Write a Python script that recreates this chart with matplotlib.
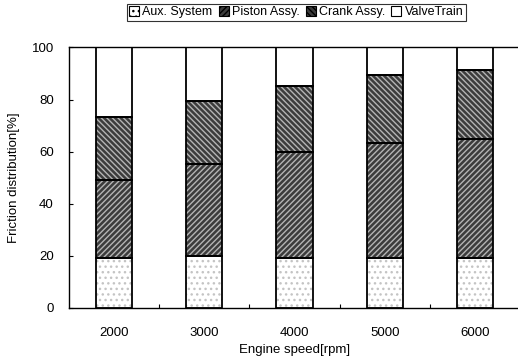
# =========================================================
#        FRICTION DISTRIBUTION vs ENGINE SPEED
# =========================================================

import numpy as np
import matplotlib
matplotlib.use("Agg")
import matplotlib.pyplot as plt
from matplotlib.patches import Patch

# =========================================================
# DỮ LIỆU
# =========================================================

engine_speed = ["2000", "3000", "4000", "5000", "6000"]

aux_system = [19.0, 20.0, 19.0, 19.0, 19.0]
piston_assy = [30.0, 35.2, 41.0, 44.5, 46.0]
crank_assy = [24.2, 24.4, 25.2, 25.9, 26.4]
valve_train = [26.8, 20.4, 14.8, 10.6, 8.6]

series_names = ["Aux. System", "Piston Assy.", "Crank Assy.", "ValveTrain"]

y_ticks = [0, 20, 40, 60, 80, 100]

# =========================================================
# STYLE
# =========================================================

plt.rcParams["font.family"] = ["Liberation Sans", "DejaVu Sans"]
plt.rcParams["hatch.linewidth"] = 1.0

# face, hatch colour, hatch pattern
styles = [
    ("white", "#c4c4c4", "..."),
    ("#3c3c3c", "#b4b4b4", "//////"),
    ("#3c3c3c", "#b4b4b4", "\\\\\\\\\\\\"),
    ("white", "white", ""),
]

# =========================================================
# VẼ
# =========================================================

fig = plt.figure(figsize=(5.18, 3.58), dpi=100)

ax = fig.add_axes([0.1332, 0.1397, 0.8707, 0.7277])

x = np.arange(len(engine_speed))
width = 0.40

bottom = np.zeros(len(engine_speed))

for values, (face, hcol, hatch) in zip(
    [aux_system, piston_assy, crank_assy, valve_train],
    styles
):

    values = np.array(values)

    # fill + hatch
    ax.bar(
        x,
        values,
        width,
        bottom=bottom,
        color=face,
        edgecolor=hcol,
        hatch=hatch,
        linewidth=0,
        zorder=2
    )

    # black outline
    ax.bar(
        x,
        values,
        width,
        bottom=bottom,
        fill=False,
        edgecolor="black",
        linewidth=1.3,
        zorder=3
    )

    bottom = bottom + values

# =========================================================
# TRỤC
# =========================================================

ax.set_xlim(-0.5, 4.5)
ax.set_ylim(0, 100)

ax.set_xticks(x)
ax.set_xticklabels(engine_speed, fontsize=9.5)
ax.tick_params(axis="x", which="major", length=0, pad=14)

ax.set_xticks(x[:-1] + 0.5, minor=True)
ax.tick_params(axis="x", which="minor", direction="in", length=3, width=0.8)

ax.set_yticks(y_ticks)
ax.tick_params(axis="y", direction="in", length=3, width=0.8, pad=11, labelsize=9.5)

ax.spines["right"].set_visible(False)

for side in ["left", "top", "bottom"]:
    ax.spines[side].set_linewidth(1.0)

ax.set_xlabel("Engine speed[rpm]", fontsize=9.5, labelpad=3)
ax.set_ylabel("Friction distribution[%]", fontsize=9.5, labelpad=8)

# =========================================================
# LEGEND
# =========================================================

handles = [
    Patch(facecolor=face, edgecolor="black", hatch=hatch, linewidth=0.8)
    for face, _, hatch in styles
]

leg = fig.legend(
    handles,
    series_names,
    loc="upper center",
    bbox_to_anchor=(0.572, 0.99),
    ncol=4,
    fontsize=9,
    frameon=True,
    fancybox=False,
    edgecolor="black",
    handlelength=0.8,
    handleheight=0.8,
    handletextpad=0.25,
    columnspacing=0.5,
    borderpad=0.2,
    borderaxespad=0
)

leg.get_frame().set_linewidth(0.8)

fig.savefig("out.png", dpi=100)
